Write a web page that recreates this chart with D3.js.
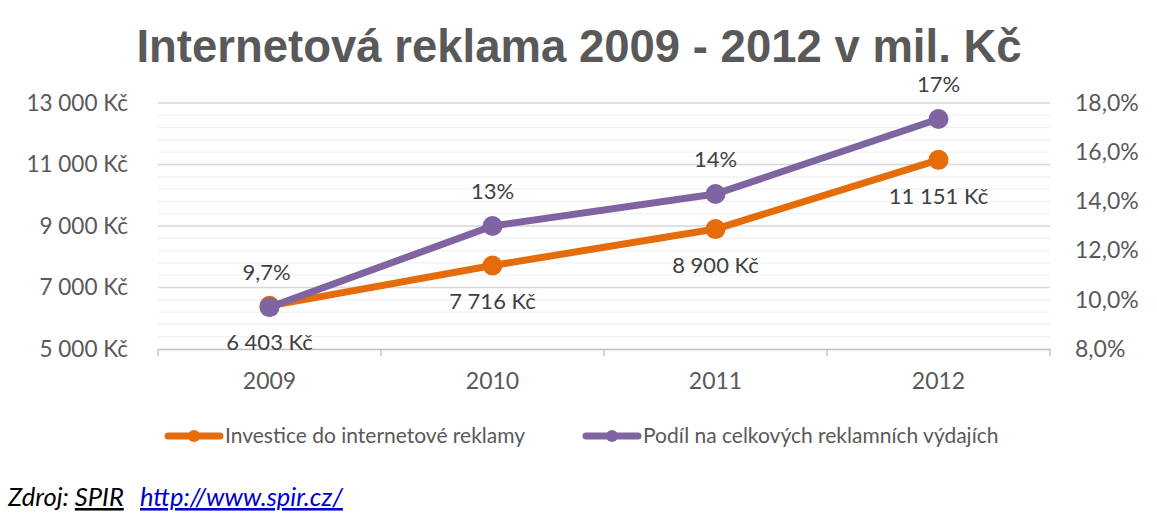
<!DOCTYPE html>
<html lang="cs">
    <head>
        <meta charset="utf-8">
        <title>Internetová reklama 2009 - 2012</title>
        <script type="text/javascript" src="https://cdn.jsdelivr.net/npm/d3@7/dist/d3.min.js"></script>
        <style type="text/css">
            body { margin: 0; background: #fff; }
            text { font-family: Lato, "Open Sans", sans-serif; }
        </style>
    </head>

    <body>
        <script type="text/javascript">
            // Data
            var years = ["2009", "2010", "2011", "2012"];
            var investice = [6403, 7716, 8900, 11151];
            var investiceLabels = ["6 403 Kč", "7 716 Kč", "8 900 Kč", "11 151 Kč"];
            var podil = [9.7, 13.0, 14.3, 17.35];
            var podilLabels = ["9,7%", "13%", "14%", "17%"];
            var leftTicks = [5000, 7000, 9000, 11000, 13000];
            var rightTicks = [8, 10, 12, 14, 16, 18];
            var seriesNames = ["Investice do internetové reklamy", "Podíl na celkových reklamních výdajích"];

            var w = 1157;
            var h = 529;
            var orange = "#E46C0A";
            var purple = "#8064A2";
            var grey = "#595959";

            var svg = d3.select("body")
                    .append("svg")
                    .attr("width", w)
                    .attr("height", h);

            // Plot area
            var plotLeft = 158, plotRight = 1050, plotTop = 103, plotBottom = 349;

            var xScale = d3.scaleBand()
                            .domain(years)
                            .range([plotLeft, plotRight]);
            var yLeft = d3.scaleLinear()
                            .domain([5000, 13000])
                            .range([plotBottom, plotTop]);
            var yRight = d3.scaleLinear()
                            .domain([8, 18])
                            .range([plotBottom, plotTop]);

            // Title
            svg.append("text")
                .attr("x", 579)
                .attr("y", 62)
                .attr("text-anchor", "middle")
                .style("font-family", "'Liberation Sans', Arial, sans-serif")
                .style("font-weight", "bold")
                .style("font-size", "45.5px")
                .attr("fill", grey)
                .text("Internetová reklama 2009 - 2012 v mil. Kč");

            // Gridlines: minor every 400, major every 2000
            var minor = d3.range(5400, 13000, 400);
            svg.append("g")
                .selectAll("line")
                .data(minor)
                .enter()
                .append("line")
                .attr("x1", plotLeft)
                .attr("x2", plotRight)
                .attr("y1", function(d) { return yLeft(d); })
                .attr("y2", function(d) { return yLeft(d); })
                .attr("stroke", "#F2F2F2")
                .attr("stroke-width", 1.3);

            svg.append("g")
                .selectAll("line")
                .data(leftTicks.slice(1))
                .enter()
                .append("line")
                .attr("x1", plotLeft)
                .attr("x2", plotRight)
                .attr("y1", function(d) { return yLeft(d); })
                .attr("y2", function(d) { return yLeft(d); })
                .attr("stroke", "#D9D9D9")
                .attr("stroke-width", 1.3);

            // Bottom category axis
            var xAxis = d3.axisBottom(xScale)
                            .tickSize(0)
                            .tickPadding(24);
            var gx = svg.append("g")
                .attr("transform", "translate(0," + plotBottom + ")")
                .call(xAxis);
            gx.select(".domain").attr("stroke", "#BFBFBF").attr("stroke-width", 1.3);
            gx.selectAll("text").attr("fill", grey).style("font-size", "23px");
            gx.selectAll(".bound")
                .data(d3.range(years.length + 1))
                .enter()
                .append("line")
                .attr("class", "bound")
                .attr("x1", function(i) { return plotLeft + i * xScale.bandwidth(); })
                .attr("x2", function(i) { return plotLeft + i * xScale.bandwidth(); })
                .attr("y1", 0)
                .attr("y2", 7)
                .attr("stroke", "#BFBFBF")
                .attr("stroke-width", 1.3);

            // Left axis
            var yAxisL = d3.axisLeft(yLeft)
                            .tickValues(leftTicks)
                            .tickSize(0)
                            .tickPadding(30)
                            .tickFormat(function(d) { return d3.format(",")(d).replace(",", " ") + " Kč"; });
            var gl = svg.append("g")
                .attr("transform", "translate(" + plotLeft + ",0)")
                .call(yAxisL);
            gl.select(".domain").remove();
            gl.selectAll("text").attr("fill", grey).style("font-size", "22.5px");

            // Right axis
            var yAxisR = d3.axisRight(yRight)
                            .tickValues(rightTicks)
                            .tickSize(0)
                            .tickPadding(25)
                            .tickFormat(function(d) { return d3.format(".1f")(d).replace(".", ",") + "%"; });
            var gr = svg.append("g")
                .attr("transform", "translate(" + plotRight + ",0)")
                .call(yAxisR);
            gr.select(".domain").remove();
            gr.selectAll("text").attr("fill", grey).style("font-size", "23px");

            function cx(i) { return xScale(years[i]) + xScale.bandwidth() / 2; }

            // Lines
            var lineL = d3.line()
                .x(function(d, i) { return cx(i); })
                .y(function(d) { return yLeft(d); });
            var lineR = d3.line()
                .x(function(d, i) { return cx(i); })
                .y(function(d) { return yRight(d); });

            svg.append("path")
                .datum(investice)
                .attr("d", lineL)
                .attr("fill", "none")
                .attr("stroke", orange)
                .attr("stroke-width", 7)
                .attr("stroke-linejoin", "round");
            svg.selectAll(".dotL")
                .data(investice)
                .enter()
                .append("circle")
                .attr("class", "dotL")
                .attr("cx", function(d, i) { return cx(i); })
                .attr("cy", function(d) { return yLeft(d); })
                .attr("r", 10)
                .attr("fill", orange);

            svg.append("path")
                .datum(podil)
                .attr("d", lineR)
                .attr("fill", "none")
                .attr("stroke", purple)
                .attr("stroke-width", 7)
                .attr("stroke-linejoin", "round");
            svg.selectAll(".dotR")
                .data(podil)
                .enter()
                .append("circle")
                .attr("class", "dotR")
                .attr("cx", function(d, i) { return cx(i); })
                .attr("cy", function(d) { return yRight(d); })
                .attr("r", 10)
                .attr("fill", purple);

            // Data labels
            svg.selectAll(".labL")
                .data(investice)
                .enter()
                .append("text")
                .attr("class", "labL")
                .attr("x", function(d, i) { return cx(i); })
                .attr("y", function(d) { return yLeft(d) + 44; })
                .attr("text-anchor", "middle")
                .attr("fill", "#404040")
                .style("font-size", "22px")
                .text(function(d, i) { return investiceLabels[i]; });

            svg.selectAll(".labR")
                .data(podil)
                .enter()
                .append("text")
                .attr("class", "labR")
                .attr("x", function(d, i) { return cx(i) - (i === 0 ? 3 : 0); })
                .attr("y", function(d) { return yRight(d) - 27; })
                .attr("text-anchor", "middle")
                .attr("fill", "#404040")
                .style("font-size", "22px")
                .text(function(d, i) { return podilLabels[i]; });

            // Legend
            var legendX = [165, 583];
            var legendColors = [orange, purple];
            var lg = svg.append("g");
            seriesNames.forEach(function(name, i) {
                lg.append("line")
                    .attr("x1", legendX[i] + 3)
                    .attr("x2", legendX[i] + 55)
                    .attr("y1", 436)
                    .attr("y2", 436)
                    .attr("stroke", legendColors[i])
                    .attr("stroke-width", 7)
                    .attr("stroke-linecap", "round");
                lg.append("circle")
                    .attr("cx", legendX[i] + 29)
                    .attr("cy", 436)
                    .attr("r", 6)
                    .attr("fill", legendColors[i]);
                lg.append("text")
                    .attr("x", legendX[i] + 60)
                    .attr("y", 443)
                    .attr("fill", grey)
                    .style("font-size", "21px")
                    .text(name);
            });

            // Source
            var src = svg.append("text")
                .attr("x", 8)
                .attr("y", 506)
                .style("font-size", "25.5px")
                .style("font-style", "italic");
            src.append("tspan").attr("fill", "#000").text("Zdroj: ");
            src.append("tspan").attr("fill", "#000").style("text-decoration", "underline").text("SPIR");
            src.append("tspan").attr("fill", "#0000CC").attr("x", 140).style("text-decoration", "underline").text("http://www.spir.cz/");
        </script>
    </body>
</html>
